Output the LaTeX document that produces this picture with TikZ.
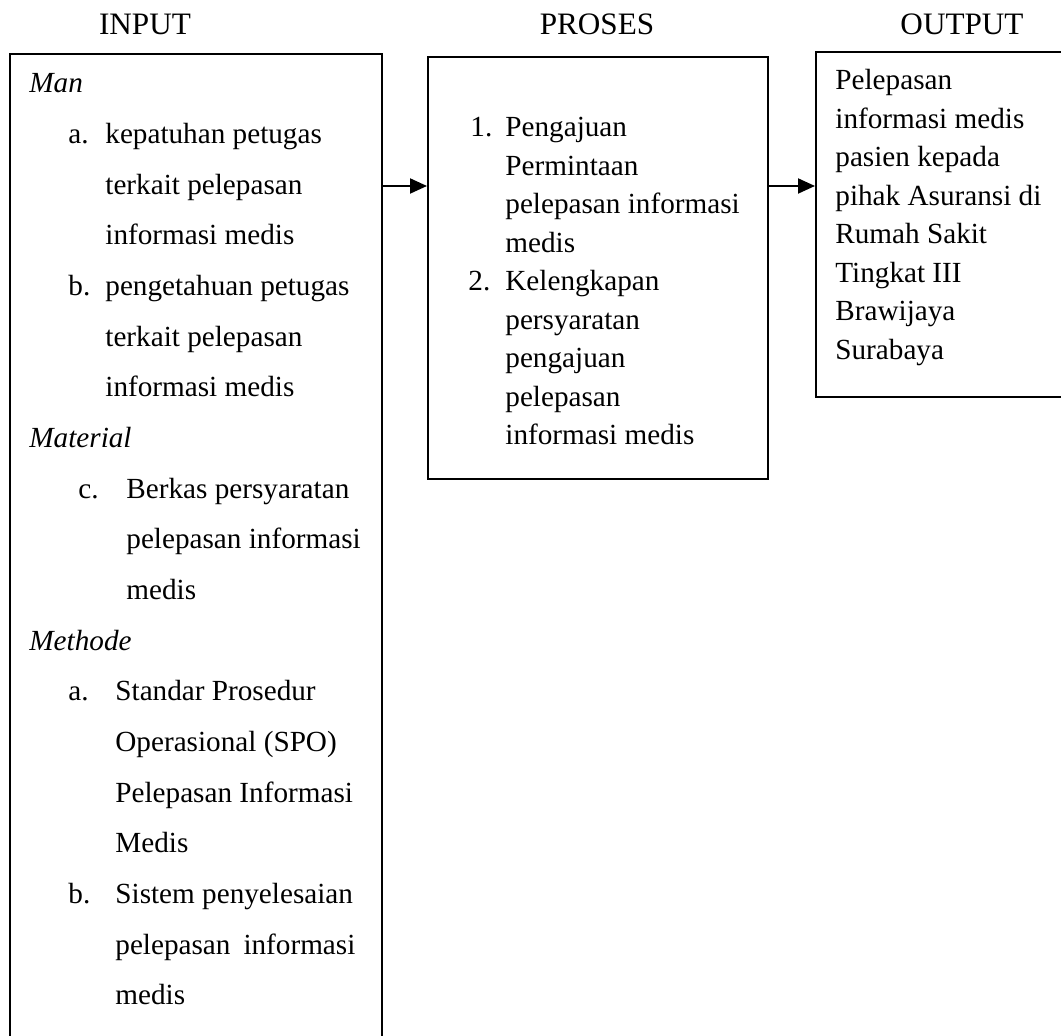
\documentclass[tikz,border=0pt]{standalone}
\usepackage{fontspec}
\setmainfont{Liberation Serif}
\usetikzlibrary{arrows.meta,fit}

\begin{document}
\begin{tikzpicture}[x=0.5pt,y=-0.5pt]
    \tikzset{box/.style= {draw, rectangle
    , inner sep=0pt
    , line width=1pt
      },
      txt/.style={anchor=base west, inner sep=0pt, font=\fontsize{14.6}{17}\selectfont},
      cat/.style={txt, font=\fontsize{14.6}{17}\selectfont\itshape},
      head/.style={anchor=base, inner sep=0pt, font=\fontsize{15.6}{18}\selectfont},
      arr/.style={-{Triangle[length=8.5pt,width=7.5pt]}, line width=1pt}
    }
\useasboundingbox (0,0) rectangle (1061,1036);

% headers
\node [head] (hin) at (145,35) {INPUT};
\node [head] (hpro) at (597,35) {PROSES};
\node [head] (hout) at (962,35) {OUTPUT};

% boxes
\node [box, fit={(9.5,54) (382,1050)}] (input) {};
\node [box, fit={(428,57) (768,479)}] (proses) {};
\node [box, fit={(816,52) (1075,397)}] (output) {};

% input: man
\node [cat] (man) at (29,93) {Man};
\node [txt] (man-a) at (68,143.65) {a.};
\foreach \t [count=\k from 1] in {kepatuhan petugas, terkait pelepasan, informasi medis}
  \node [txt] (mana\k) at (105,93+50.65*\k) {\t};
\node [txt] (man-b) at (68,295.6) {b.};
\foreach \t [count=\k from 4] in {pengetahuan petugas, terkait pelepasan, informasi medis}
  \node [txt] (manb\k) at (105,93+50.65*\k) {\t};

% input: material
\node [cat] (material) at (29,447.55) {Material};
\node [txt] (mat-c) at (78,498.2) {c.};
\foreach \t [count=\k from 8] in {Berkas persyaratan, pelepasan informasi, medis}
  \node [txt] (matc\k) at (126,93+50.65*\k) {\t};

% input: methode
\node [cat] (methode) at (29,650.15) {Methode};
\node [txt] (met-a) at (68,700.8) {a.};
\foreach \t [count=\k from 12] in {Standar Prosedur, Operasional (SPO), Pelepasan Informasi, Medis}
  \node [txt] (meta\k) at (115,93+50.65*\k) {\t};
\node [txt] (met-b) at (68,903.4) {b.};
\foreach \t [count=\k from 16] in {Sistem penyelesaian, {\makebox[120pt][s]{pelepasan informasi}}, medis}
  \node [txt] (metb\k) at (115,93+50.65*\k) {\t};

% proses
\node [txt] (pro-1) at (470,137) {1.};
\node [txt] (pro-2) at (468,291) {2.};
\foreach \t [count=\k from 0] in {Pengajuan, Permintaan, pelepasan informasi, medis, Kelengkapan, persyaratan, pengajuan, pelepasan, informasi medis}
  \node [txt] (pro\k) at (505,137+38.5*\k) {\t};

% output
\foreach \t [count=\k from 0] in {Pelepasan, informasi medis, pasien kepada, pihak Asuransi di, Rumah Sakit, Tingkat III, Brawijaya, Surabaya}
  \node [txt] (out\k) at (835,90+38.5*\k) {\t};

\coordinate (lvl) at (0,186);
 \path[draw, arr] (input.east |- lvl) -- (proses.west |- lvl);
 \path[draw, arr] (proses.east |- lvl) -- (output.west |- lvl);
\end{tikzpicture}
\end{document}
